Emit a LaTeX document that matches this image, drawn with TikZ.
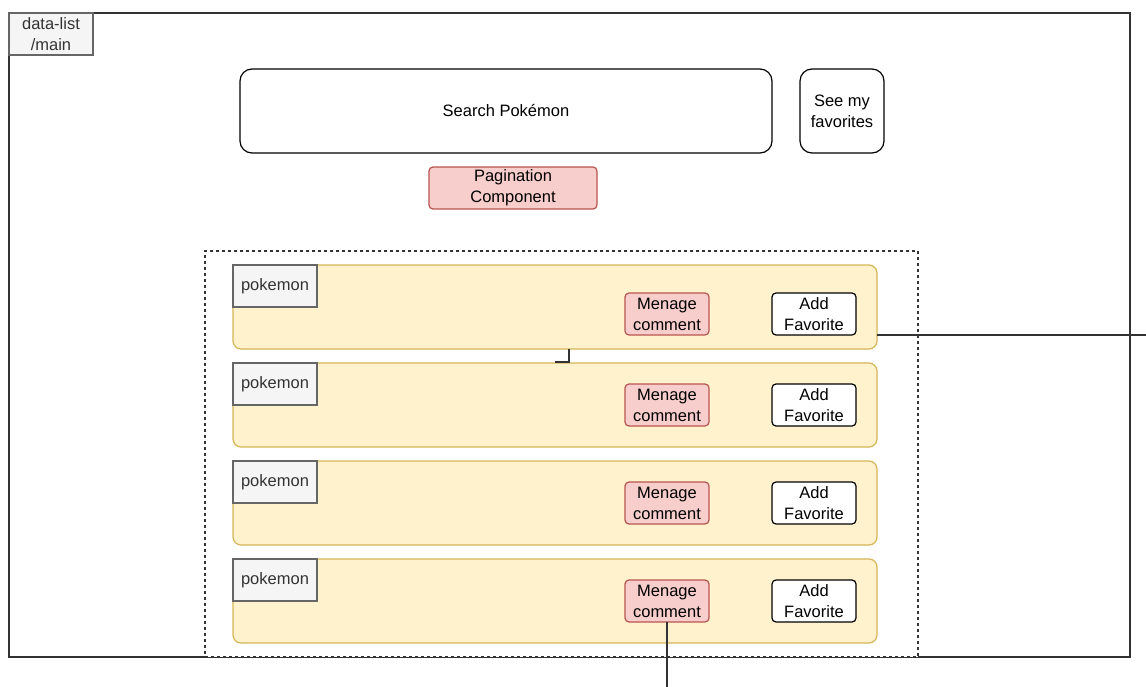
\documentclass[tikz,border=0pt]{standalone}
\usepackage{fontspec}
\setmainfont{Liberation Sans}
\definecolor{rowfill}{HTML}{FFF2CC}
\definecolor{rowdraw}{HTML}{D6B656}
\definecolor{redfill}{HTML}{F8CECC}
\definecolor{reddraw}{HTML}{B85450}
\definecolor{tagfill}{HTML}{F5F5F5}
\definecolor{tagdraw}{HTML}{666666}
\definecolor{darkline}{HTML}{333333}
\begin{document}
\begin{tikzpicture}[x=1pt,y=-1pt,
  every node/.style={inner sep=0pt,outer sep=0pt,font=\fontsize{16.5}{21}\selectfont,align=center},
  frame/.style={draw=darkline,line width=1.4pt},
  tag/.style={draw=tagdraw,fill=tagfill,line width=1.3pt,text=darkline,anchor=north west,minimum width=84pt,minimum height=42pt},
  plainbox/.style={draw=black,fill=white,line width=1.2pt,rounded corners=6pt,anchor=north west},
  redbox/.style={draw=reddraw,fill=redfill,line width=1.2pt,rounded corners=4pt,anchor=north west,minimum width=84pt,minimum height=42pt},
  rowbox/.style={draw=rowdraw,fill=rowfill,line width=1.2pt,rounded corners=8pt,anchor=north west,minimum width=644pt,minimum height=84pt},
  favbox/.style={draw=black,fill=white,line width=1.2pt,rounded corners=4pt,anchor=north west,minimum width=84pt,minimum height=42pt},
  wire/.style={draw=darkline,line width=1.2pt}]
\useasboundingbox (0,0) rectangle (1146,687);
\fill[white] (0,0) rectangle (1146,687);
% outer frame
\node[frame,anchor=north west,minimum width=1121pt,minimum height=644pt] (main) at (9,13) {};
\node[tag] (mainlabel) at (9,13) {data-list\\/main};
% top controls
\node[plainbox,rounded corners=12pt,minimum width=532pt,minimum height=84pt] (search) at (240,69) {Search Pokémon};
\node[plainbox,rounded corners=12pt,minimum width=84pt,minimum height=84pt] (fav) at (800,69) {See my\\favorites};
\node[redbox,minimum width=168pt] (pag) at (429,167) {Pagination\\Component};
% dashed container
\node[draw=darkline,fill=white,dash pattern=on 3pt off 3pt,line width=1.2pt,anchor=north west,minimum width=713pt,minimum height=406pt] (list) at (205,251) {};
% rows
\node[rowbox] (row1) at (233,265) {};
\node[rowbox] (row2) at (233,363) {};
\node[rowbox] (row3) at (233,461) {};
\node[rowbox] (row4) at (233,559) {};
\foreach \i/\y in {1/265,2/363,3/461,4/559}{
  \node[tag] (pk\i) at (233,\y) {pokemon};
}
\node[redbox] (mc1) at (625,293) {Menage\\comment};
\node[favbox] (af1) at (772,293) {Add\\Favorite};
\foreach \i/\y in {2/384,3/482,4/580}{
  \node[redbox] (mc\i) at (625,\y) {Menage\\comment};
  \node[favbox] (af\i) at (772,\y) {Add\\Favorite};
}
% connectors
\coordinate (rightend) at (1146,335);
\coordinate (botend) at (667,687);
\coordinate (stubend) at (555,362);
\draw[wire] (row1.east |- 0,335) -- (rightend);
\draw[wire] (mc4.south) -- (botend);
\draw[wire] (row1.south -| 569,0) |- (stubend);
\end{tikzpicture}
\end{document}
